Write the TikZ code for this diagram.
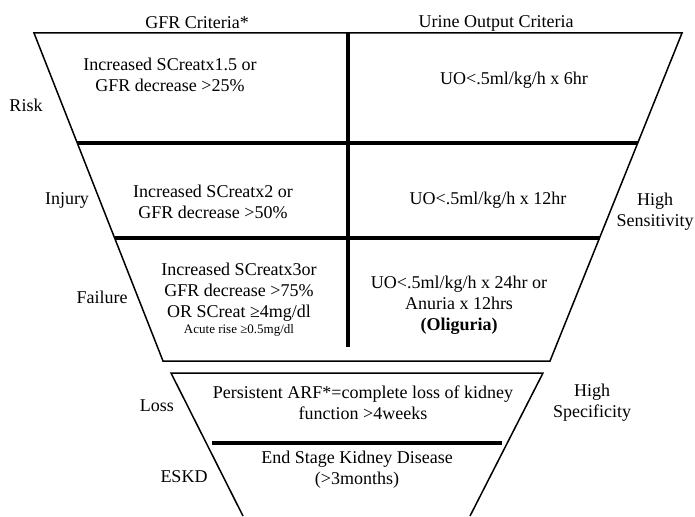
\documentclass[tikz,border=0pt]{standalone}
\usepackage{fontspec}
\setmainfont{Liberation Serif}
\begin{document}
\begin{tikzpicture}[x=1pt,y=-1pt,
  txt/.style={font=\fontsize{18}{21}\selectfont, align=center, inner sep=0pt},
  small/.style={font=\fontsize{13}{15}\selectfont, align=center, inner sep=0pt},
  edge/.style={line width=1.5pt},
  bar/.style={line width=4pt}]
\useasboundingbox (0,0) rectangle (695,516);
% upper funnel
\coordinate (tl) at (34,33);
\coordinate (tr) at (682,33);
\coordinate (bl) at (163,361);
\coordinate (br) at (550,361);
\draw[edge] (tl) -- (tr) -- (br) -- (bl) -- cycle;
\coordinate (r1l) at (77.3,143);
\coordinate (r1r) at (637.7,143);
\coordinate (r2l) at (114.6,238);
\coordinate (r2r) at (599.5,238);
\draw[bar] (r1l) -- (r1r);
\draw[bar] (r2l) -- (r2r);
\coordinate (vt) at (348,33);
\coordinate (vb) at (348,347);
\draw[bar] (vt) -- (vb);
% lower funnel
\coordinate (ltl) at (171,373);
\coordinate (ltr) at (543,373);
\coordinate (lbl) at (243,516);
\coordinate (lbr) at (470,516);
\draw[edge] (lbl) -- (ltl) -- (ltr) -- (lbr);
\coordinate (sl) at (212,443);
\coordinate (sr) at (502,443);
\draw[bar] (sl) -- (sr);
% headers
\node[txt] (hgfr) at (197,23) {GFR Criteria*};
\node[txt] (huo) at (496,23) {Urine Output Criteria};
% Risk
\node[txt] (lrisk) at (26,105) {Risk};
\node[txt] (riskgfr) at (170,75) {Increased SCreatx1.5 or\\GFR decrease >25\%};
\node[txt] (riskuo) at (514,80) {UO<.5ml/kg/h x 6hr};
% Injury
\node[txt] (linjury) at (67,200) {Injury};
\node[txt] (injgfr) at (213,202) {Increased SCreatx2 or\\GFR decrease >50\%};
\node[txt] (injuo) at (488,200) {UO<.5ml/kg/h x 12hr};
\node[txt] (hsens) at (655,212) {High\\Sensitivity};
% Failure
\node[txt] (lfail) at (102,297) {Failure};
\node[txt] (failgfr) at (239,292) {Increased SCreatx3or\\GFR decrease >75\%\\OR SCreat ≥4mg/dl};
\node[small] (failacute) at (239,330) {Acute rise ≥0.5mg/dl};
\node[txt] (failuo) at (459,305) {UO<.5ml/kg/h x 24hr or\\Anuria x 12hrs\\\textbf{(Oliguria)}};
% Loss
\node[txt] (lloss) at (157,406) {Loss};
\node[txt] (losstxt) at (363,403) {Persistent ARF*=complete loss of kidney\\function >4weeks};
\node[txt] (hspec) at (592,403) {High\\Specificity};
% ESKD
\node[txt] (leskd) at (184,477) {ESKD};
\node[txt] (eskdtxt) at (357,470) {End Stage Kidney Disease\\(>3months)};
\end{tikzpicture}
\end{document}
